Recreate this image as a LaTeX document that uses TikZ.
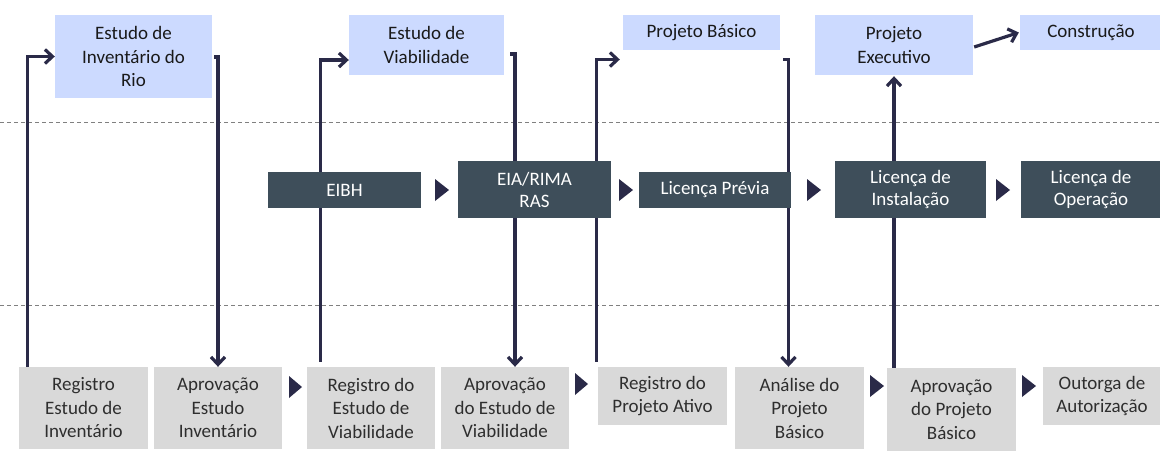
\documentclass[tikz,border=0pt]{standalone}
\usepackage{fontspec}
\setmainfont{Carlito}
\usetikzlibrary{arrows.meta,calc}
\definecolor{topfill}{RGB}{204,218,255}
\definecolor{midfill}{RGB}{62,78,90}
\definecolor{botfill}{RGB}{217,217,217}
\definecolor{navy}{RGB}{42,42,72}
\definecolor{dashgray}{RGB}{128,128,128}
\begin{document}
\begin{tikzpicture}[x=1pt,y=-1pt,
  box/.style={inner sep=0pt, align=center, font=\fontsize{19}{23.5}\selectfont},
  topbox/.style={box, fill=topfill, text=black!90},
  midbox/.style={box, fill=midfill, text=white, font=\fontsize{19}{22}\selectfont},
  botbox/.style={box, fill=botfill, text=black!82},
  conn/.style={draw=navy, line width=3.2pt, -{Straight Barb[length=7.5pt,width=14pt]}},
  sep/.style={draw=dashgray, line width=0.8pt, dash pattern=on 4pt off 3pt},
  tri/.style={fill=navy}]
\useasboundingbox[fill=white] (0,0) rectangle (1160,475);

% separators
\draw[sep] (0,122) -- (1160,122);
\draw[sep] (0,305) -- (1160,305);

% top row
\node[topbox, minimum width=157pt, minimum height=83pt] (t1) at (133.5,56.5) {Estudo de\\Inventário do\\Rio};
\node[topbox, minimum width=155pt, minimum height=60pt] (t2) at (426.5,45) {Estudo de\\Viabilidade};
\node[topbox, minimum width=157pt, minimum height=35pt] (t3) at (701.5,32.5) {Projeto Básico};
\node[topbox, minimum width=158pt, minimum height=60pt] (t4) at (894,45) {Projeto\\Executivo};
\node[topbox, minimum width=142pt, minimum height=35pt] (t5) at (1091,32.5) {Construção};

% bottom row
\node[botbox, minimum width=129pt, minimum height=82pt] (b1) at (83.5,408) {Registro\\Estudo de\\Inventário};
\node[botbox, minimum width=128pt, minimum height=82pt] (b2) at (218,408) {Aprovação\\Estudo\\Inventário};
\node[botbox, minimum width=128pt, minimum height=82pt] (b3) at (371,408) {Registro do\\Estudo de\\Viabilidade};
\node[botbox, minimum width=128pt, minimum height=82pt] (b4) at (505,408) {Aprovação\\do Estudo de\\Viabilidade};
\node[botbox, minimum width=129pt, minimum height=58pt] (b5) at (662.5,396) {Registro do\\Projeto Ativo};
\node[botbox, minimum width=129pt, minimum height=82pt] (b6) at (799.5,408) {Análise do\\Projeto\\Básico};
\node[botbox, minimum width=129pt, minimum height=83pt] (b7) at (951.5,409.5) {Aprovação\\do Projeto\\Básico};
\node[botbox, minimum width=118pt, minimum height=58pt] (b8) at (1102,396) {Outorga de\\Autorização};

% connectors
\draw[conn] ($(b1.north west)+(9,0)$) |- (t1.west);
\draw[conn] ($(t1.east)+(2,0.5)$) -| (b2.north);
\draw[conn] ($(b3.north west)+(14,-5)$) |- ($(t2.west)+(0,15)$);
\draw[conn] ($(t2.east)+(6,9)$) -| ($(b4.north)+(10,0)$);
\draw[conn] ($(b5.north west)+(-1,-5)$) |- ($(t3.west)+(-3,27)$);
\draw[conn] ($(t3.east)+(3,27)$) -| ($(b6.north)+(-11,0)$);
\draw[conn, shorten >=1pt] (b7.north west -| t4.south) -- (t4.south);
\draw[conn] ($(t4.east)+(1,2)$) -- ($(t5.west)+(-1,0)$);

% middle row (drawn over connectors)
\node[midbox, minimum width=153pt, minimum height=36pt] (m1) at (344.5,190) {EIBH};
\node[midbox, minimum width=153pt, minimum height=57pt] (m2) at (534.5,189.5) {EIA/RIMA\\RAS};
\node[midbox, minimum width=152pt, minimum height=36pt] (m3) at (715,190) {Licença Prévia};
\node[midbox, minimum width=151pt, minimum height=57pt] (m4) at (910.5,189.5) {Licença de\\Instalação};
\node[midbox, minimum width=140pt, minimum height=57pt] (m5) at (1091,189.5) {Licença de\\Operação};

% flow triangles, middle row
\fill[tri] (435,179) -- (449,190) -- (435,201) -- cycle;
\fill[tri] (619,179) -- (633,190) -- (619,201) -- cycle;
\fill[tri] (807,179) -- (821,190) -- (807,201) -- cycle;
\fill[tri] (996,179) -- (1010,190) -- (996,201) -- cycle;

% flow triangles, bottom row
\fill[tri] (289,376) -- (302,387) -- (289,398) -- cycle;
\fill[tri] (575,373) -- (588,384) -- (575,395) -- cycle;
\fill[tri] (870,375) -- (884,386) -- (870,397) -- cycle;
\fill[tri] (1022,375) -- (1036,386) -- (1022,397) -- cycle;
\end{tikzpicture}
\end{document}
